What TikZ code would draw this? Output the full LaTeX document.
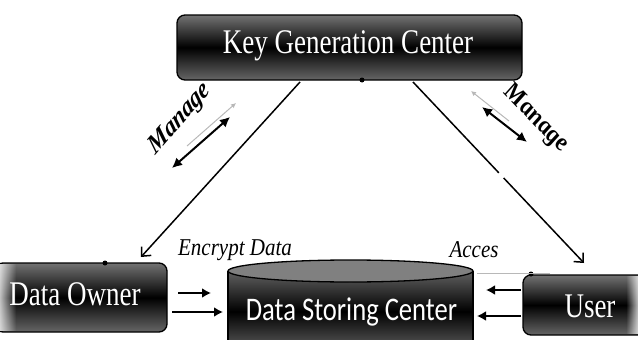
\documentclass[tikz,border=0pt]{standalone}
\usepackage{fontspec}
\usepackage{graphicx}
\setmainfont{Liberation Serif}
\newfontfamily\dscfont{Carlito}
\usetikzlibrary{arrows.meta,fadings}
\tikzset{
  darkbox/.style={draw=black, line width=1.3pt, rounded corners=8pt, top color=black!55, bottom color=black!60, middle color=black},
  boxtext/.style={text=white, font=\fontsize{27}{27}\selectfont, inner sep=0pt},
  mainline/.style={line width=1.5pt, -{Straight Barb[length=7pt,width=13pt,line width=1.5pt]}},
  thickarrow/.style={line width=2.4pt, -{Latex[length=9pt,width=10pt]}},
  managearrow/.style={line width=2pt, {Latex[length=10pt,width=10pt]}-{Latex[length=10pt,width=10pt]}},
  ghost/.style={draw=black!28, line width=1pt},
  lbl/.style={font=\fontsize{21}{21}\selectfont\itshape, inner sep=0pt},
  mlbl/.style={font=\fontsize{22}{22}\selectfont\bfseries\itshape, inner sep=0pt},
  edgefade/.style={fill=white, opacity=0.75},
}
\newcommand{\vst}[1]{\scalebox{1}[1.28]{#1}}
\begin{document}
\begin{tikzpicture}[x=1pt,y=-1pt]
\useasboundingbox (0,0) rectangle (638,340);
\clip (0,0) rectangle (638,340);
% Key Generation Center
\node[darkbox, minimum width=345pt, minimum height=65pt] (kgc) at (349.5,47.5) {};
\node[boxtext] (kgct) at (348,46) {\vst{Key Generation Center}};
\fill[black] (362,80) circle [radius=2.5pt];
% Data Owner
\node[darkbox, minimum width=172pt, minimum height=69pt] (do) at (81,297.5) {};
\path[edgefade, path fading=east] (0,264) rectangle (16,331);
\node[boxtext] (dot) at (75,294) {\vst{Data Owner}};
\fill[black] (105,263) circle [radius=2.5pt];
% User
\node[darkbox, minimum width=130pt, minimum height=60pt] (us) at (588,305) {};
\path[edgefade, path fading=west] (626,276) rectangle (638,334);
\node[boxtext] (ust) at (590,306) {\vst{User}};
\fill[black] (531,274) circle [radius=2.5pt];
% Data Storing Center (cylinder)
\path[top color=black!62, bottom color=black!62, middle color=black] (228,271) rectangle (473,352);
\draw[line width=1.3pt] (228,271) -- (228,345) (473,271) -- (473,345);
\draw[line width=1.3pt, fill=black!50] (350.5,271) ellipse [x radius=122.5, y radius=11];
\node[text=white, inner sep=0pt, font=\dscfont\fontsize{26.6}{27}\selectfont] (dsc) at (351.5,312) {\scalebox{1}[1.24]{Data Storing Center}};
% main connectors
\coordinate (k1) at (300,82);
\coordinate (o1) at (141,257);
\coordinate (k2) at (413,82);
\coordinate (u1) at (584,263);
\draw[mainline] (k1) -- (o1);
\draw[mainline, dash pattern=on 125pt off 7pt on 400pt] (k2) -- (u1);
% ghost marks
\draw[ghost, -{Latex[length=5pt,width=5pt]}] (187,146) -- (236,103);
\draw[ghost, {Latex[length=5pt,width=5pt]}-] (471,91) -- (509,121);
\draw[ghost, line width=0.8pt] (550,273) -- (477,273);
% manage arrows
\coordinate (m1a) at (172,168);
\coordinate (m1b) at (230,117);
\coordinate (m2a) at (482,107);
\coordinate (m2b) at (527,142);
\draw[managearrow] (m1a) -- (m1b);
\draw[managearrow] (m2a) -- (m2b);
% data arrows
\coordinate (e1a) at (178,293);
\coordinate (e1b) at (211,293);
\coordinate (e2a) at (172,312);
\coordinate (e2b) at (223,312);
\coordinate (r1a) at (521,290);
\coordinate (r1b) at (486,290);
\coordinate (r2a) at (521,316);
\coordinate (r2b) at (477,316);
\draw[thickarrow] (e1a) -- (e1b);
\draw[thickarrow] (e2a) -- (e2b);
\draw[thickarrow] (r1a) -- (r1b);
\draw[thickarrow] (r2a) -- (r2b);
% labels
\node[lbl] (enc) at (235,250) {\scalebox{1}[1.15]{Encrypt Data}};
\node[lbl] (acc) at (474,250) {\scalebox{1}[1.15]{Acces}};
\begin{scope}[shift={(180,119)}, yscale=1.28]
  \node[mlbl, rotate=42, transform shape] (man1) at (0,0) {Manage};
\end{scope}
\begin{scope}[shift={(536,119)}, yscale=1.28]
  \node[mlbl, rotate=-39, transform shape] (man2) at (0,0) {Manage};
\end{scope}
\end{tikzpicture}
\end{document}
